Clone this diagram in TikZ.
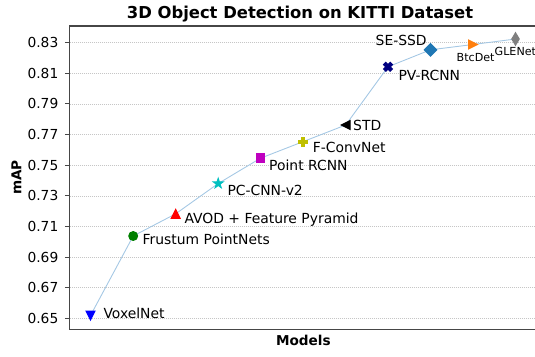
\documentclass[tikz,border=0pt]{standalone}
\usepackage{fontspec}
\setmainfont{DejaVu Sans}
\definecolor{mcyan}{rgb}{0,0.75,0.75}
\definecolor{mmagenta}{rgb}{0.75,0,0.75}
\definecolor{molive}{rgb}{0.75,0.75,0}
\definecolor{mgreen}{rgb}{0,0.5,0}
\definecolor{mnavy}{rgb}{0,0,0.5}
\definecolor{tabblue}{HTML}{1F77B4}
\definecolor{taborange}{HTML}{FF7F0E}
\definecolor{tabgray}{HTML}{7F7F7F}
\definecolor{trendblue}{RGB}{165,200,228}
\definecolor{spinegray}{RGB}{70,70,70}
\begin{document}
\begin{tikzpicture}[x=1pt,y=-1pt]
\tikzset{
  ticklbl/.style={font=\fontsize{13.8}{16}\selectfont, anchor=east, inner sep=0pt},
  annot/.style={font=\fontsize{13.9}{16}\selectfont, anchor=base west, inner sep=0pt},
  annotsmall/.style={font=\fontsize{11.1}{13}\selectfont, anchor=base west, inner sep=0pt},
  boldlbl/.style={font=\bfseries\fontsize{13.6}{16}\selectfont, inner sep=0pt},
  titlelbl/.style={font=\bfseries\fontsize{16.4}{19}\selectfont, inner sep=0pt},
  gridline/.style={gray!45, line width=0.5pt, dash pattern=on 1pt off 1pt},
  spine/.style={spinegray, line width=1.5pt},
  tickmark/.style={spinegray, line width=1pt},
  trend/.style={trendblue, line width=0.9pt},
  mk/.style={line width=1.1pt, line join=miter},
  pics/mkdown/.style={code={\filldraw[mk,#1] (0,4.4)--(-4.4,-4.4)--(4.4,-4.4)--cycle;}},
  pics/mkup/.style={code={\filldraw[mk,#1] (0,-4.4)--(-4.4,4.4)--(4.4,4.4)--cycle;}},
  pics/mkleft/.style={code={\filldraw[mk,#1] (-4.4,0)--(4.4,-4.4)--(4.4,4.4)--cycle;}},
  pics/mkright/.style={code={\filldraw[mk,#1] (4.4,0)--(-4.4,-4.4)--(-4.4,4.4)--cycle;}},
  pics/mkcircle/.style={code={\filldraw[mk,#1] (0,0) circle[radius=4.4];}},
  pics/mksquare/.style={code={\filldraw[mk,#1] (-4.4,-4.4) rectangle (4.4,4.4);}},
  pics/mkdiamond/.style={code={\filldraw[mk,#1] (0,-6.2)--(6.2,0)--(0,6.2)--(-6.2,0)--cycle;}},
  pics/mkthin/.style={code={\filldraw[mk,#1] (0,-6.2)--(3.7,0)--(0,6.2)--(-3.7,0)--cycle;}},
  pics/mkstar/.style={code={\filldraw[mk,#1] (-90:5)--(-54:1.91)--(-18:5)--(18:1.91)--(54:5)--(90:1.91)--(126:5)--(162:1.91)--(198:5)--(234:1.91)--cycle;}},
  pics/mkplus/.style={code={\filldraw[mk,#1] (-1.47,-4.4)--(1.47,-4.4)--(1.47,-1.47)--(4.4,-1.47)--(4.4,1.47)--(1.47,1.47)--(1.47,4.4)--(-1.47,4.4)--(-1.47,1.47)--(-4.4,1.47)--(-4.4,-1.47)--(-1.47,-1.47)--cycle;}},
  pics/mkx/.style={code={\filldraw[mk,#1] (-2.2,-4.4)--(0,-2.2)--(2.2,-4.4)--(4.4,-2.2)--(2.2,0)--(4.4,2.2)--(2.2,4.4)--(0,2.2)--(-2.2,4.4)--(-4.4,2.2)--(-2.2,0)--(-4.4,-2.2)--cycle;}},
}
\useasboundingbox (0,0) rectangle (535,356);

% horizontal grid, ticks and tick labels
\foreach \t [count=\i from 0] in {0.65,0.67,0.69,0.71,0.73,0.75,0.77,0.79,0.81,0.83} {
  \pgfmathsetmacro{\yy}{318.3-30.62*\i}
  \draw[gridline] (69.6,\yy) -- (535,\yy);
  \draw[tickmark] (64.9,\yy) -- (69.6,\yy);
  \node[ticklbl] (tl\i) at (58.5,\yy) {\t};
}

% axes frame (right side lies beyond the page edge)
\draw[spine] (535,26) -- (69.6,26) -- (69.6,329.3) -- (535,329.3);

% data points
\coordinate (vox)   at (90.5,315.5);
\coordinate (frus)  at (133.2,236);
\coordinate (avod)  at (175.7,213.8);
\coordinate (pccnn) at (218.2,183.5);
\coordinate (prcnn) at (260.5,158.2);
\coordinate (fconv) at (303.2,141.6);
\coordinate (std)   at (345.7,125);
\coordinate (pvr)   at (388.0,66.8);
\coordinate (sessd) at (430.5,49.8);
\coordinate (btc)   at (473.0,44.5);
\coordinate (glen)  at (515.5,39);

% trend line
\draw[trend] (vox) -- (frus) -- (avod) -- (pccnn) -- (prcnn) -- (fconv)
  -- (std) -- (pvr) -- (sessd) -- (btc) -- (glen);

% markers
\pic at (vox)   {mkdown=blue};
\pic at (frus)  {mkcircle=mgreen};
\pic at (avod)  {mkup=red};
\pic at (pccnn) {mkstar=mcyan};
\pic at (prcnn) {mksquare=mmagenta};
\pic at (fconv) {mkplus=molive};
\pic at (std)   {mkleft=black};
\pic at (pvr)   {mkx=mnavy};
\pic at (sessd) {mkdiamond=tabblue};
\pic at (btc)   {mkright=taborange};
\pic at (glen)  {mkthin=tabgray};

% point labels
\node[annot] (lvox)   at (103.3,318.3) {VoxelNet};
\node[annot] (lfrus)  at (142.5,244.3) {Frustum PointNets};
\node[annot] (lavod)  at (184.3,223.3) {AVOD + Feature Pyramid};
\node[annot] (lpccnn) at (227.3,195)   {PC-CNN-v2};
\node[annot] (lprcnn) at (269,170.5)   {Point RCNN};
\node[annot] (lfconv) at (312.7,152.5) {F-ConvNet};
\node[annot] (lstd)   at (353,130.7)   {STD};
\node[annot] (lpvr)   at (398.3,80.7)  {PV-RCNN};
\node[annot] (lsessd) at (375.5,45.5)  {SE-SSD};
\node[annotsmall] (lbtc)  at (456.5,61.5) {BtcDet};
\node[annotsmall] (lglen) at (494.5,55.7) {GLENet};

% titles
\node[titlelbl, anchor=base] (title) at (300,18.3) {3D Object Detection on KITTI Dataset};
\node[boldlbl] (xlab) at (303.3,340.7) {Models};
\node[boldlbl, rotate=90] (ylab) at (16.5,177.5) {mAP};
\end{tikzpicture}
\end{document}
